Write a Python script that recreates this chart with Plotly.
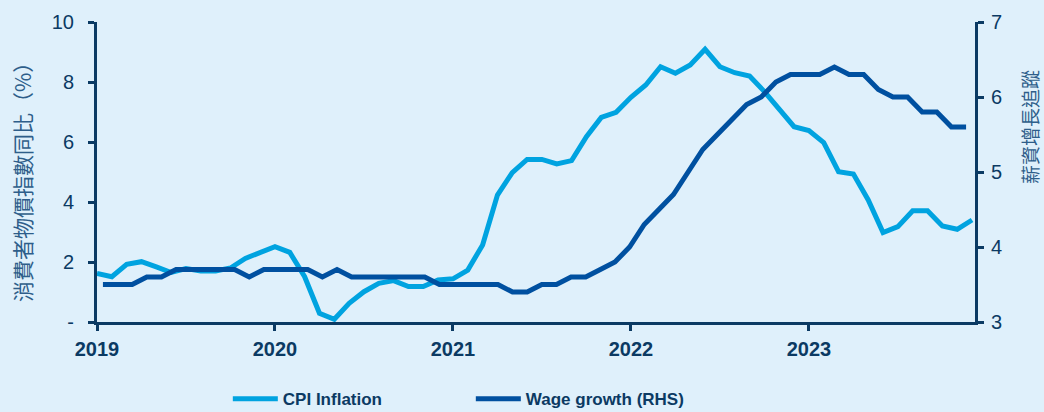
import plotly.graph_objects as go

# Monthly index (0 = Jan 2019)
months = list(range(60))
year_tick_pos = [0, 12, 24, 36, 48]
year_labels = ["2019", "2020", "2021", "2022", "2023"]

cpi = [1.62, 1.51, 1.92, 2.01, 1.84, 1.65, 1.78, 1.70, 1.70, 1.80,
       2.12, 2.32, 2.51, 2.32, 1.51, 0.29, 0.09, 0.62, 1.01, 1.29,
       1.38, 1.18, 1.18, 1.40, 1.44, 1.73, 2.57, 4.23, 4.98, 5.42,
       5.42, 5.27, 5.38, 6.18, 6.82, 6.99, 7.49, 7.90, 8.51, 8.29,
       8.57, 9.09, 8.51, 8.31, 8.20, 7.68, 7.07, 6.51, 6.38, 5.98,
       5.01, 4.93, 4.07, 2.98, 3.18, 3.71, 3.71, 3.20, 3.09, 3.40]

wage = [3.5, 3.5, 3.5, 3.6, 3.6, 3.7, 3.7, 3.7, 3.7, 3.7,
        3.6, 3.7, 3.7, 3.7, 3.7, 3.6, 3.7, 3.6, 3.6, 3.6,
        3.6, 3.6, 3.6, 3.5, 3.5, 3.5, 3.5, 3.5, 3.4, 3.4,
        3.5, 3.5, 3.6, 3.6, 3.7, 3.8, 4.0, 4.3, 4.5, 4.7,
        5.0, 5.3, 5.5, 5.7, 5.9, 6.0, 6.2, 6.3, 6.3, 6.3,
        6.4, 6.3, 6.3, 6.1, 6.0, 6.0, 5.8, 5.8, 5.6, 5.6]

left_ticks = [0, 2, 4, 6, 8, 10]
left_labels = ["-", "2", "4", "6", "8", "10"]
right_ticks = [3, 4, 5, 6, 7]

NAVY = "#0B3A63"
BG = "#DFF0FB"
LIGHT = "#00A3E0"
DARK = "#0050A0"
TITLE = "#2E5E8A"

fig = go.Figure()
fig.add_trace(go.Scatter(x=months, y=cpi, name="CPI Inflation", mode="lines",
                         line=dict(color=LIGHT, width=5), xaxis="x", yaxis="y"))
fig.add_trace(go.Scatter(x=months, y=wage, name="Wage growth (RHS)", mode="lines",
                         line=dict(color=DARK, width=5), xaxis="x2", yaxis="y2"))

axis_common = dict(showgrid=False, zeroline=False, showline=True, linecolor=NAVY, linewidth=3,
                   ticks="outside", ticklen=6, tickwidth=3, tickcolor=NAVY, automargin=False)

fig.update_layout(
    width=1044, height=412,
    margin=dict(l=97, r=69, t=22, b=90, autoexpand=False),
    paper_bgcolor=BG, plot_bgcolor=BG,
    font=dict(family="Liberation Sans, Arial", color=NAVY),
    showlegend=True,
    legend=dict(orientation="h", x=0.149, xanchor="left", y=-0.257, yanchor="middle",
                font=dict(size=17, family="Liberation Sans, Arial", color=NAVY, weight="bold"),
                bgcolor="rgba(0,0,0,0)", entrywidth=183, itemwidth=45),
    xaxis=dict(range=[0, 59.2], tickmode="array", tickvals=year_tick_pos, ticktext=year_labels,
               tickfont=dict(size=20, weight="bold", color=NAVY), ticklabelstandoff=1,
               **axis_common),
    xaxis2=dict(range=[-0.4055, 59.61], overlaying="x", visible=False),
    yaxis=dict(range=[0, 10], tickmode="array", tickvals=left_ticks, ticktext=left_labels,
               tickfont=dict(size=20, color=NAVY), ticklabelstandoff=10, **axis_common),
    yaxis2=dict(range=[3, 7], tickmode="array", tickvals=right_ticks, overlaying="y", side="right",
                anchor="x", tickfont=dict(size=20, color=NAVY), ticklabelstandoff=3, **axis_common),
)

fig.add_annotation(text="消費者物價指數同比（%）", xref="paper", yref="paper",
                   x=(22 - 97) / 878, y=0.483, xanchor="center", yanchor="middle",
                   textangle=-90, showarrow=False,
                   font=dict(size=21, family="Noto Sans CJK TC", color=TITLE))
fig.add_annotation(text="薪資增長追蹤", xref="paper", yref="paper",
                   x=(1029 - 97) / 878, y=0.65, xanchor="center", yanchor="middle",
                   textangle=-90, showarrow=False,
                   font=dict(size=19, family="Noto Sans CJK TC", color=TITLE))

fig.write_html("out.html", config={"displayModeBar": False},
               post_script="document.body.style.margin='0';")
